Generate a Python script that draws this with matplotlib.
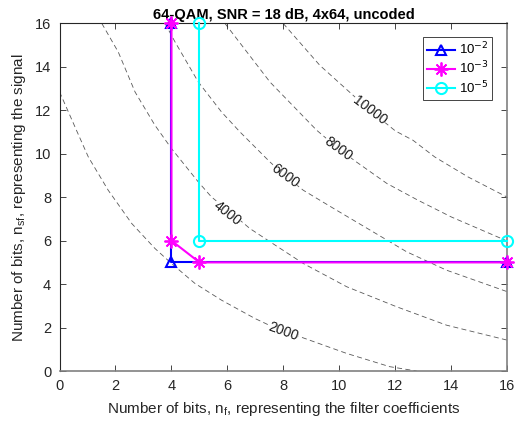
import matplotlib
matplotlib.use("Agg")
import matplotlib.pyplot as plt

# contour levels and the dashed curves
levels = [2000, 4000, 6000, 8000, 10000]

c2000_x = [0.0, 0.65, 1.03, 1.74, 2.58, 3.41, 4.0, 4.84, 5.79, 6.98, 8.0, 8.59, 10.26, 11.8, 12.76]
c2000_y = [12.85, 10.95, 9.85, 8.32, 6.79, 5.64, 4.95, 4.03, 3.26, 2.42, 1.8, 1.58, 0.81, 0.2, 0.0]

c4000_x = [1.51, 2.1, 2.7, 3.41, 4.0, 4.96, 5.43, 6.45, 6.8, 7.52, 8.71, 10.26, 12.04, 13.83, 16.0]
c4000_y = [16.0, 14.68, 12.84, 11.31, 10.24, 8.7, 8.01, 6.94, 6.56, 5.95, 4.95, 3.88, 2.96, 2.11, 1.42]

c6000_x = [3.77, 4.13, 4.96, 5.79, 6.45, 7.52, 8.05, 8.71, 9.9, 11.8, 12.4, 13.83, 16.0]
c6000_y = [16.0, 15.14, 13.3, 11.92, 11.0, 9.62, 9.0, 8.32, 7.4, 5.95, 5.49, 4.64, 3.65]

c8000_x = [5.91, 7.52, 9.19, 9.96, 10.61, 11.7, 12.81, 14.0, 16.0]
c8000_y = [16.0, 13.3, 11.08, 10.24, 9.62, 8.63, 7.86, 7.09, 5.98]

c10000_x = [7.99, 9.3, 10.49, 11.09, 12.0, 12.63, 13.41, 14.6, 16.0]
c10000_y = [16.0, 14.07, 12.69, 12.0, 11.05, 10.62, 9.85, 8.93, 8.0]

curves_x = [c2000_x, c4000_x, c6000_x, c8000_x, c10000_x]
curves_y = [c2000_y, c4000_y, c6000_y, c8000_y, c10000_y]

# operating points for each target error rate
ber_labels = ['10$^{-2}$', '10$^{-3}$', '10$^{-5}$']
nf_e2 = [4, 4, 16]
nsf_e2 = [16, 5, 5]
nf_e3 = [4, 4, 5, 16]
nsf_e3 = [16, 6, 5, 5]
nf_e5 = [5, 5, 16]
nsf_e5 = [16, 6, 6]

plt.rcParams['font.family'] = ['Liberation Sans', 'DejaVu Sans']

fig = plt.figure(figsize=(5.23, 4.25), dpi=100)
ax = fig.add_axes([0.1138, 0.127, 0.8562, 0.818])

for cx, cy in zip(curves_x, curves_y):
    ax.plot(cx, cy, color='0.35', lw=0.6, ls=(0, (6, 4)), zorder=1)

# inline contour labels
label_pos = [(8.0, 1.8, -20), (5.98, 7.26, -38), (8.05, 9.0, -36),
             (9.96, 10.24, -36), (11.09, 12.0, -37)]
for lev, (lx, ly, rot) in zip(levels, label_pos):
    ax.text(lx, ly, str(lev), rotation=rot, rotation_mode='anchor',
            ha='center', va='center', fontsize=10, color='0.1', zorder=2,
            bbox=dict(facecolor='white', edgecolor='none', pad=0.3))

ax.plot(nf_e2, nsf_e2, color='#0000ff', lw=1.5, marker='^', ms=7,
        mfc='none', mew=1.5, label=ber_labels[0], clip_on=False, zorder=3)
ax.plot(nf_e3, nsf_e3, color='#ff00ff', lw=1.5, marker=(8, 2, 0), ms=10,
        mew=1.3, label=ber_labels[1], clip_on=False, zorder=4)
ax.plot(nf_e5, nsf_e5, color='#00ffff', lw=1.5, marker='o', ms=8,
        mfc='none', mew=1.5, label=ber_labels[2], clip_on=False, zorder=4)

ax.set_xlim(0, 16)
ax.set_ylim(0, 16)
ax.set_xticks(range(0, 17, 2))
ax.set_yticks(range(0, 17, 2))
ax.tick_params(direction='in', top=True, right=True, length=4,
               width=0.6, colors='0.15', labelsize=10.5, pad=6)
for s in ['left', 'top']:
    ax.spines[s].set_color('0.15')
for s in ['right', 'bottom']:
    ax.spines[s].set_color('0.5')
    ax.spines[s].set_linewidth(1.2)

ax.set_xlabel('Number of bits, n$_\\mathregular{f}$, representing the filter coefficients',
              fontsize=11, color='0.15', labelpad=5)
ax.set_ylabel('Number of bits, n$_\\mathregular{sf}$, representing the signal',
              fontsize=11, color='0.15', labelpad=5)
ax.set_title('64-QAM, SNR = 18 dB, 4x64, uncoded', fontsize=10.5,
             fontweight='bold', pad=3)

leg = ax.legend(loc='upper right', bbox_to_anchor=(0.9665, 0.9614),
                fontsize=9.5, fancybox=False, framealpha=1,
                edgecolor='0.15', handlelength=2.1, borderaxespad=0,
                labelspacing=0.2, handletextpad=0.3, borderpad=0.3)
leg.get_frame().set_linewidth(0.6)

fig.savefig('out.png', dpi=100)
